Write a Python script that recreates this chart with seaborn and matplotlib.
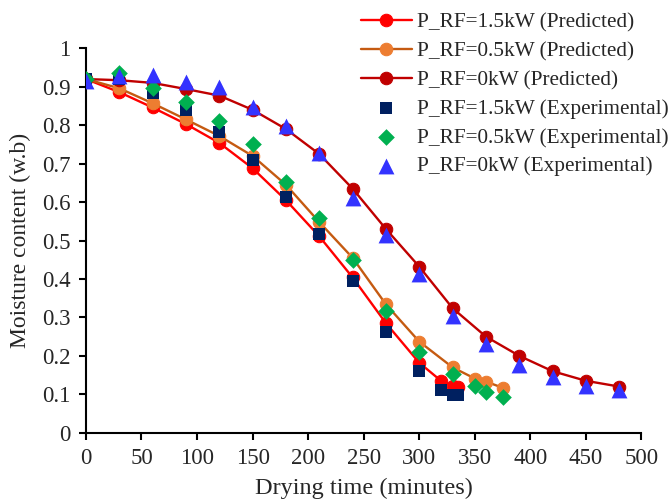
import numpy as np
import pandas as pd
import matplotlib
matplotlib.use('Agg')
import matplotlib.pyplot as plt
import seaborn as sns

# drying time (minutes) and moisture content (w.b)
t_15 = [0, 30, 60, 90, 120, 150, 180, 210, 240, 270, 300, 320, 330, 335]
pred_15 = [0.92, 0.886, 0.846, 0.803, 0.754, 0.688, 0.605, 0.511, 0.404, 0.285, 0.182, 0.134, 0.122, 0.118]
exp_15 = [0.92, 0.92, 0.883, 0.84, 0.783, 0.709, 0.614, 0.516, 0.395, 0.263, 0.161, 0.111, 0.099, 0.098]

t_05 = [0, 30, 60, 90, 120, 150, 180, 210, 240, 270, 300, 330, 350, 360, 375]
pred_05 = [0.92, 0.896, 0.857, 0.815, 0.772, 0.72, 0.645, 0.548, 0.455, 0.334, 0.237, 0.17, 0.141, 0.133, 0.117]
exp_05 = [0.92, 0.935, 0.898, 0.861, 0.811, 0.752, 0.653, 0.559, 0.448, 0.317, 0.211, 0.153, 0.122, 0.107, 0.094]

t_0 = [0, 30, 60, 90, 120, 150, 180, 210, 240, 270, 300, 330, 360, 390, 420, 450, 480]
pred_0 = [0.92, 0.917, 0.91, 0.894, 0.877, 0.84, 0.79, 0.725, 0.635, 0.53, 0.432, 0.324, 0.25, 0.2, 0.16, 0.135, 0.12]
exp_0 = [0.916, 0.928, 0.93, 0.912, 0.9, 0.848, 0.797, 0.727, 0.61, 0.515, 0.412, 0.304, 0.231, 0.176, 0.146, 0.122, 0.111]

sns.set_style('ticks')
plt.rcParams['font.family'] = ['Liberation Serif', 'DejaVu Serif']

fig = plt.figure(figsize=(6.71, 5.01), dpi=100)
ax = fig.add_axes([0.128, 0.1363, 0.828, 0.7673])

pred = [
    (t_15, pred_15, '#FF0000', '#FF0000', 'P_RF=1.5kW (Predicted)'),
    (t_05, pred_05, '#C55A11', '#ED7D31', 'P_RF=0.5kW (Predicted)'),
    (t_0, pred_0, '#C00000', '#C00000', 'P_RF=0kW (Predicted)'),
]
for t, y, lc, mc, lab in pred:
    sns.lineplot(x=t, y=y, ax=ax, color=lc, lw=1.7, marker='o', markersize=9,
                 markerfacecolor=mc, markeredgecolor=mc, label=lab, zorder=3)

exps = [
    (t_15, exp_15, '#002060', 's', 80, 'P_RF=1.5kW (Experimental)'),
    (t_05, exp_05, '#00B050', 'D', 72, 'P_RF=0.5kW (Experimental)'),
    (t_0, exp_0, '#3333FF', '^', 130, 'P_RF=0kW (Experimental)'),
]
for t, y, c, m, s, lab in exps:
    sns.scatterplot(x=t, y=y, ax=ax, color=c, marker=m, s=s, linewidth=0,
                    label=lab, zorder=4)

ax.set_xlim(0, 500)
ax.set_ylim(0, 1)
ax.set_xticks(np.arange(0, 501, 50))
ax.set_yticks(np.arange(0, 1.01, 0.1))
ax.set_yticklabels(['%g' % round(v, 1) for v in np.arange(0, 1.01, 0.1)])
sns.despine(ax=ax)
for sp in ['left', 'bottom']:
    ax.spines[sp].set_linewidth(1.5)
    ax.spines[sp].set_color('black')
ax.tick_params(axis='both', labelsize=16.5, width=1.5, length=5, color='black',
               direction='out', pad=6)
ax.set_xlabel('Drying time (minutes)', fontsize=17.5, labelpad=6)
ax.set_ylabel('Moisture content (w.b)', fontsize=17, labelpad=8)

handles, labels = ax.get_legend_handles_labels()
ax.legend_.remove()
fig.legend(handles, labels, loc='upper left', bbox_to_anchor=(350 / 671, 1 - 2 / 501),
           frameon=False, fontsize=15.3, borderpad=0, handlelength=2.4,
           handletextpad=0.25, labelspacing=0.42)

fig.savefig('out.png', dpi=100)
